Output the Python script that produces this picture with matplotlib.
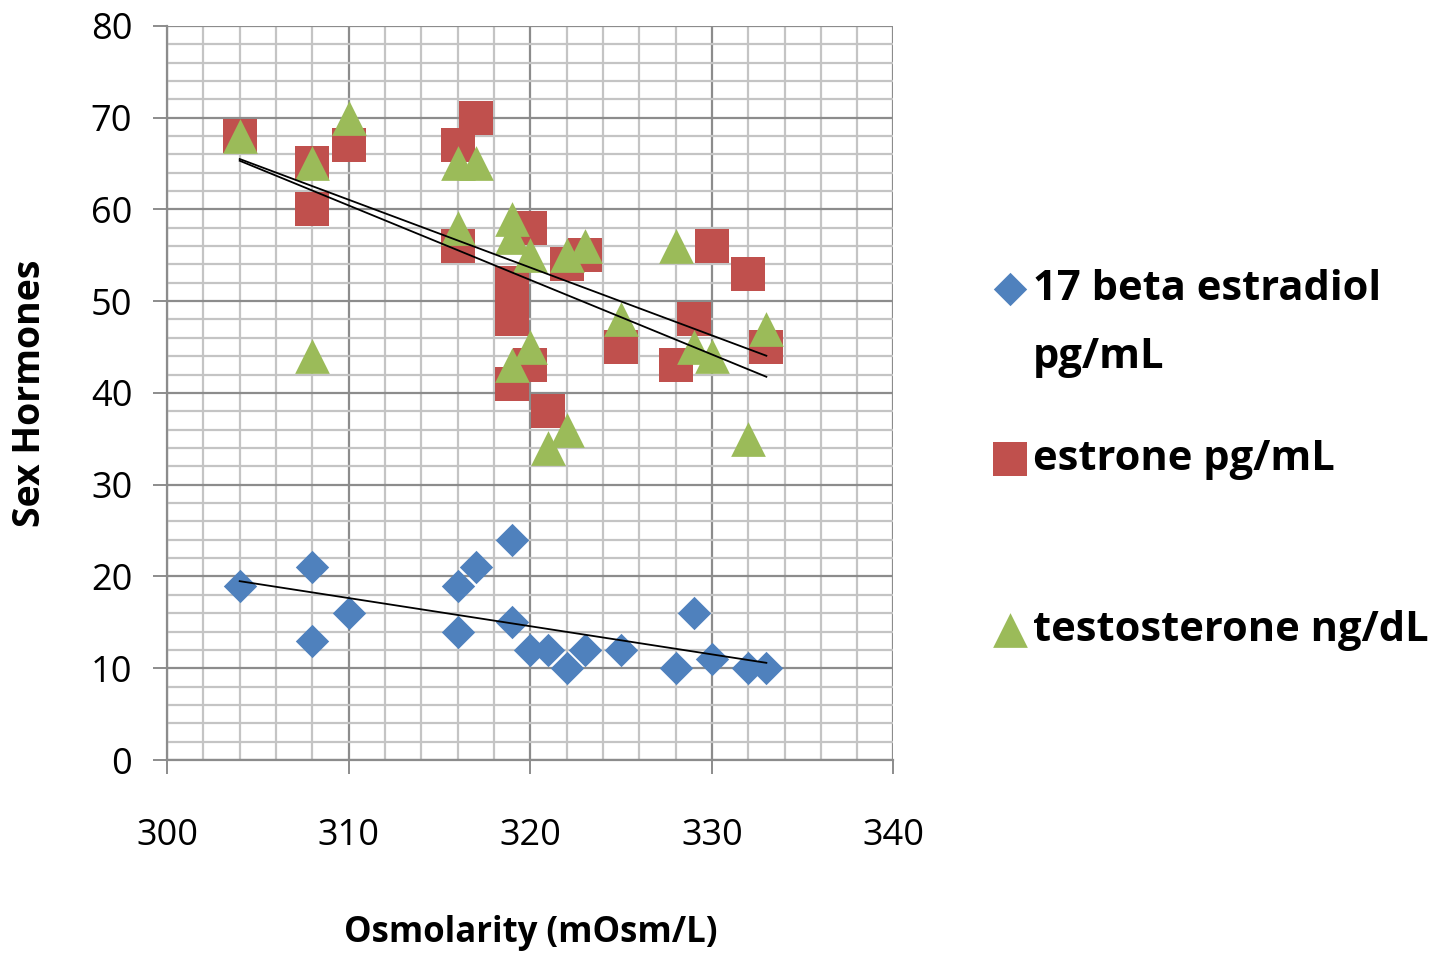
import numpy as np
import matplotlib
matplotlib.use("Agg")
import matplotlib.pyplot as plt
from matplotlib.ticker import MultipleLocator

# --- data ---
estradiol_x = [304, 308, 308, 310, 316, 316, 317, 319, 319, 320, 321, 322, 323,
               325, 328, 329, 330, 332, 333]
estradiol_y = [19, 21, 13, 16, 19, 14, 21, 24, 15, 12, 12, 10, 12,
               12, 10, 16, 11, 10, 10]

estrone_x = [304, 308, 308, 310, 316, 316, 317, 319, 319, 319, 319, 320, 320,
             321, 322, 323, 325, 328, 329, 330, 332, 333]
estrone_y = [68, 65, 60, 67, 67, 56, 70, 52, 50, 48, 41, 58, 43,
             38, 54, 55, 45, 43, 48, 56, 53, 45]

testo_x = [304, 308, 308, 310, 316, 316, 317, 319, 319, 319, 320, 320, 321,
           322, 322, 323, 325, 328, 329, 330, 332, 333]
testo_y = [68, 65, 44, 70, 65, 58, 65, 59, 57, 43, 55, 45, 34,
           55, 36, 56, 48, 56, 45, 44, 35, 47]

series_labels = ["17 beta estradiol", "estrone pg/mL", "testosterone ng/dL"]
estradiol_unit = "pg/mL"
colors = ["#4F81BD", "#C0504D", "#9BBB59"]

plt.rcParams['font.family'] = ['Open Sans', 'DejaVu Sans']

fig = plt.figure(figsize=(14.5, 9.56), dpi=100)
ax = fig.add_axes([0.1152, 0.205, 0.501, 0.768])

h1 = ax.scatter(estradiol_x, estradiol_y, marker="D", s=17**2, color=colors[0],
                linewidths=0, zorder=3)
h2 = ax.scatter(estrone_x, estrone_y, marker="s", s=25**2, color=colors[1],
                linewidths=0, zorder=3)
h3 = ax.scatter(testo_x, testo_y, marker="^", s=25**2, color=colors[2],
                linewidths=0, zorder=4)

# linear trendlines
for xs, ys in [(estradiol_x, estradiol_y), (estrone_x, estrone_y), (testo_x, testo_y)]:
    xs = np.array(xs, dtype=float)
    k, b = np.polyfit(xs, ys, 1)
    xx = np.array([xs.min(), xs.max()])
    ax.plot(xx, k * xx + b, color="black", lw=1.3, zorder=5)

ax.set_xlim(300, 340)
ax.set_ylim(0, 80)
ax.xaxis.set_major_locator(MultipleLocator(10))
ax.yaxis.set_major_locator(MultipleLocator(10))
ax.xaxis.set_minor_locator(MultipleLocator(2))
ax.yaxis.set_minor_locator(MultipleLocator(2))
ax.set_axisbelow(True)
ax.grid(which="minor", color="#C4C4C4", lw=1.6)
ax.grid(which="major", color="#8C8C8C", lw=1.6)

for s in ["top", "right"]:
    ax.spines[s].set_visible(False)
for s in ["left", "bottom"]:
    ax.spines[s].set_color("#8C8C8C")
    ax.spines[s].set_linewidth(1.6)

ax.tick_params(which="major", direction="out", length=10, width=1.4,
               color="#8C8C8C", labelsize=26)
ax.tick_params(which="minor", length=0)
ax.tick_params(axis="x", pad=32)
ax.tick_params(axis="y", pad=15)

ax.set_xlabel("Osmolarity (mOsm/L)", fontsize=25, fontweight="bold", labelpad=44)
ax.set_ylabel("Sex Hormones", fontsize=27, fontweight="bold", labelpad=30)

# legend entries placed one by one
legend_pos = [0.697, 0.519, 0.341]
for h, lab, ypos in zip([h1, h2, h3], series_labels, legend_pos):
    fig.legend([h], [lab], loc="center left", bbox_to_anchor=(0.672, ypos),
               frameon=False, prop={"weight": "bold", "size": 30},
               handletextpad=0.1, handlelength=0.9, borderaxespad=0)
fig.text(0.7125, 0.626, estradiol_unit, fontsize=30, fontweight="bold",
         ha="left", va="center")

fig.savefig("out.png", dpi=100)
